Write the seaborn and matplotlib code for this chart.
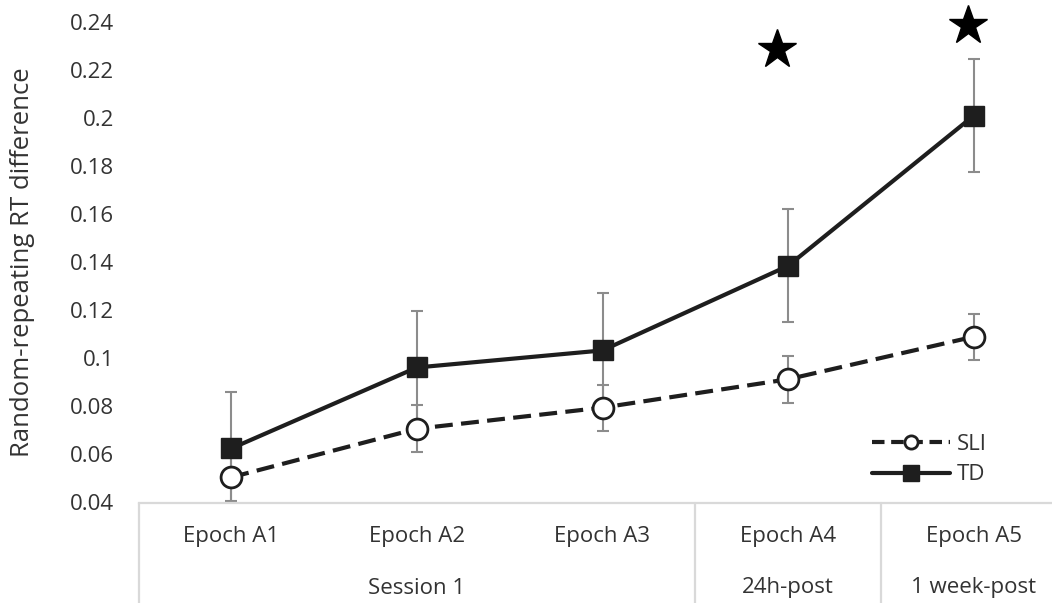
import numpy as np
import pandas as pd
import matplotlib
matplotlib.use("Agg")
import matplotlib.pyplot as plt
from matplotlib.lines import Line2D
import seaborn as sns

# ---- data -------------------------------------------------------------
epochs = ["Epoch A1", "Epoch A2", "Epoch A3", "Epoch A4", "Epoch A5"]
sessions = ["Session 1", "24h-post", "1 week-post"]
session_centers = [1, 3, 4]          # epoch index under which each session name sits
session_bounds = [-0.5, 2.5, 3.5]    # left edges of the session blocks

sli_mean = [0.0505, 0.0707, 0.0795, 0.0913, 0.1090]
sli_err = [0.0097, 0.0097, 0.0096, 0.0097, 0.0095]
td_mean = [0.0625, 0.0962, 0.1033, 0.1385, 0.2010]
td_err = [0.0235, 0.0236, 0.0240, 0.0235, 0.0236]

# significance stars (x in epoch units, y in data units)
star_x = [2.94, 3.97]
star_y = [0.2286, 0.2386]

yticks = [0.04, 0.06, 0.08, 0.10, 0.12, 0.14, 0.16, 0.18, 0.20, 0.22, 0.24]
ytick_labels = ["0.04", "0.06", "0.08", "0.1", "0.12", "0.14", "0.16",
                "0.18", "0.2", "0.22", "0.24"]

# ---- style ------------------------------------------------------------
sns.set_style("white")
plt.rcParams["font.family"] = ["Open Sans", "DejaVu Sans"]
TEXT = "#333333"
LINE = "#1e1e1e"
ERR = "#8c8c8c"
GRID = "#d9d9d9"
FS = 16

fig = plt.figure(figsize=(10.52, 6.03), dpi=100)
W, H = 1052, 603
ax_left, ax_right = 138.5, 1066.5
ax_top, ax_bottom = 22.0, 502.5
ax = fig.add_axes([ax_left / W, 1 - ax_bottom / H,
                   (ax_right - ax_left) / W, (ax_bottom - ax_top) / H])

df = pd.DataFrame({
    "epoch": epochs * 2,
    "value": sli_mean + td_mean,
    "group": ["SLI"] * 5 + ["TD"] * 5,
})

# error bars sit underneath the lines
ax.errorbar(epochs, sli_mean, yerr=sli_err, fmt="none", ecolor=ERR,
            elinewidth=1.5, capsize=4.2, capthick=1.5, zorder=1)
ax.errorbar(epochs, td_mean, yerr=td_err, fmt="none", ecolor=ERR,
            elinewidth=1.5, capsize=4.2, capthick=1.5, zorder=1)

sns.lineplot(data=df[df.group == "SLI"], x="epoch", y="value", ax=ax,
             color=LINE, linewidth=3, linestyle=(0, (4.3, 2.0)),
             marker="o", markersize=15, markerfacecolor="white",
             markeredgecolor=LINE, markeredgewidth=2, zorder=3)
sns.lineplot(data=df[df.group == "TD"], x="epoch", y="value", ax=ax,
             color=LINE, linewidth=3, marker="s", markersize=14,
             markerfacecolor=LINE, markeredgecolor=LINE,
             markeredgewidth=1, zorder=4)

# stars over the significant epochs
ax.plot(star_x, star_y, linestyle="none", marker="*", markersize=29.5,
        color="black", clip_on=False, zorder=5)

# ---- axes ---------------------------------------------------------------
ax.set_xlim(-0.5, 4.5)
ax.set_ylim(0.04, 0.24)
ax.set_yticks(yticks)
ax.set_yticklabels(ytick_labels, fontsize=FS, color=TEXT)
ax.tick_params(axis="y", length=0, pad=17.6)
ax.set_xticks([])
ax.set_xlabel("")
ax.set_ylabel("Random-repeating RT difference", fontsize=18.5, color=TEXT,
              ha="center", va="center")
ax.yaxis.set_label_coords((23 - ax_left) / (ax_right - ax_left), 0.5)

for side in ("top", "right", "left"):
    ax.spines[side].set_visible(False)
ax.spines["bottom"].set_color(GRID)
ax.spines["bottom"].set_linewidth(1.6)

# two-level category axis
xtr = ax.get_xaxis_transform()
ax_h = ax_bottom - ax_top
epoch_row = -(536.7 - ax_bottom) / ax_h
session_row = -(588.0 - ax_bottom) / ax_h
for i, lab in enumerate(epochs):
    ax.text(i, epoch_row, lab, transform=xtr, ha="center", va="center",
            fontsize=FS, color=TEXT, clip_on=False)
for xc, lab in zip(session_centers, sessions):
    ax.text(xc, session_row, lab, transform=xtr, ha="center", va="center",
            fontsize=FS, color=TEXT, clip_on=False)
for xb in session_bounds:
    ax.add_line(Line2D([xb, xb], [0, -0.3], transform=xtr, color=GRID,
                       linewidth=1.6, clip_on=False))

# legend
handles = [
    Line2D([], [], color=LINE, linewidth=3, linestyle=(0, (3.0, 1.6)),
           marker="o", markersize=9.5, markerfacecolor="white",
           markeredgecolor=LINE, markeredgewidth=2),
    Line2D([], [], color=LINE, linewidth=3, marker="s", markersize=11,
           markerfacecolor=LINE, markeredgecolor=LINE),
]
ax.legend(handles, ["SLI", "TD"], loc="upper left",
          bbox_to_anchor=(872 / W, 1 - 434 / H), bbox_transform=fig.transFigure,
          frameon=False, fontsize=FS, labelcolor=TEXT, handlelength=3.5,
          handletextpad=0.3, labelspacing=0.42, borderpad=0, borderaxespad=0)

fig.savefig("out.png", dpi=100)
